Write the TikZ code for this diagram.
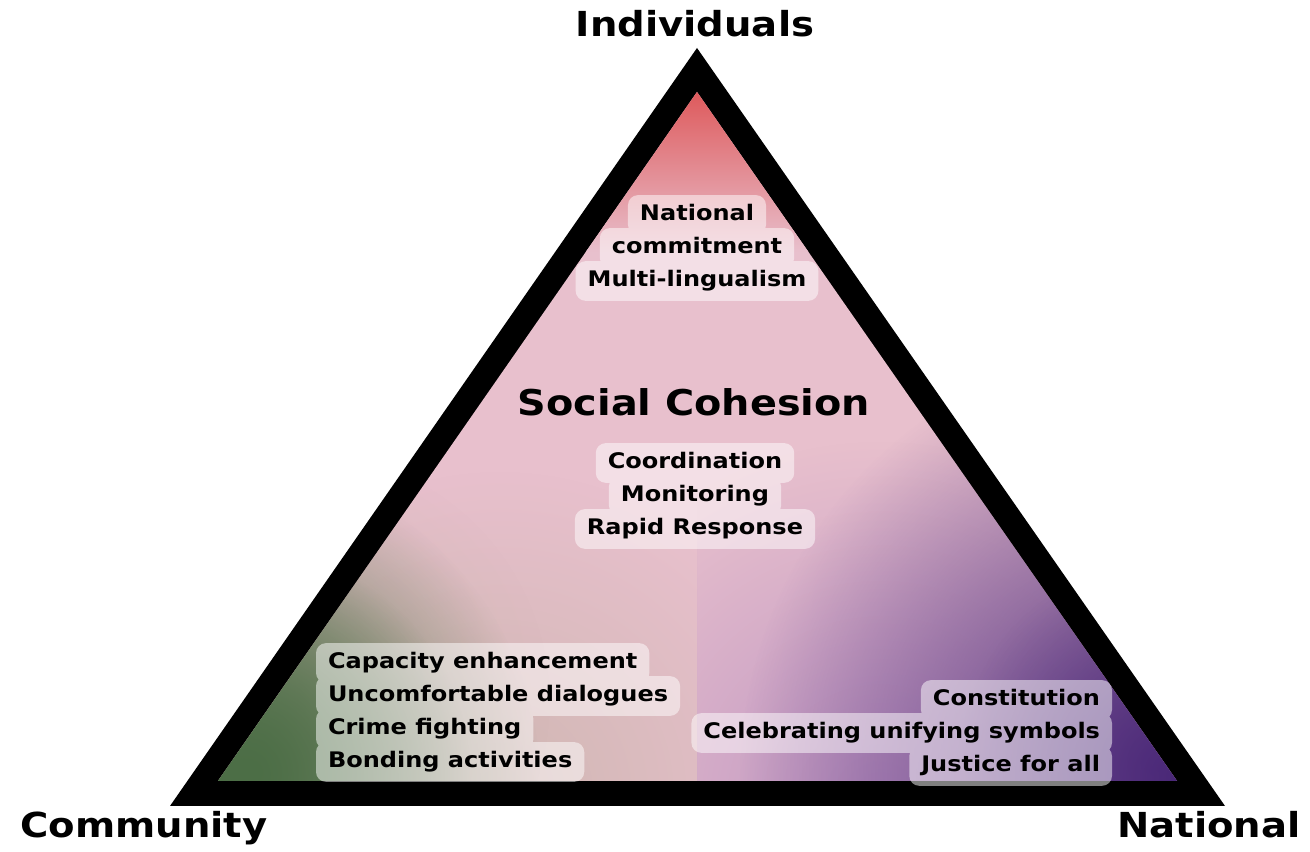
\documentclass[tikz,border=0pt]{standalone}
\usepackage{fontspec}
\setmainfont{DejaVu Sans}[FakeStretch=1.12]
\usetikzlibrary{fadings,backgrounds}

\definecolor{pinkbase}{HTML}{E8C0CD}
\definecolor{apexred}{HTML}{DE5A5C}
\definecolor{greencorner}{HTML}{4C6E46}
\definecolor{purplecorner}{HTML}{4A2878}
\definecolor{beigewash}{HTML}{C6B4A8}
\definecolor{lilacwash}{HTML}{B58CC0}

\tikzfading[name=glow, inner color=transparent!0, outer color=transparent!100]

\pgfdeclarelayer{boxes}
\pgfsetlayers{background,boxes,main}

\tikzset{
  corner/.style={font=\bfseries\fontsize{9.8}{12}\selectfont},
  heading/.style={font=\bfseries\fontsize{10.1}{13}\selectfont},
  item/.style={font=\bfseries\fontsize{6.1}{7}\selectfont,
    inner xsep=0.12cm, inner ysep=2.6pt, text height=4.7pt, text depth=1.4pt,
    outer sep=0pt},
  itembox/.style={fill=white, rounded corners=0.1cm},
}

\begin{document}
\begin{tikzpicture}
    \useasboundingbox (0,0) rectangle (13.1,8.52);

    % Dreieck
    \begin{scope}[on background layer]
        \fill[black] (1.70,0.46) -- (6.97,8.04) -- (12.25,0.46) -- cycle;
        \clip (2.18,0.71) -- (6.97,7.60) -- (11.77,0.71) -- cycle;
        \fill[pinkbase] (0,0) rectangle (13.1,8.52);
        \shade[top color=apexred, bottom color=pinkbase] (4,6.0) rectangle (10,7.6);
        \begin{scope}
            \clip (0,0) rectangle (6.97,8.52);
            \fill[beigewash, fill opacity=0.7, path fading=glow] (5.0,0.6) circle (3.2);
            \fill[beigewash, fill opacity=0.6, path fading=glow] (3.0,1.5) circle (2.5);
        \end{scope}
        \begin{scope}
            \clip (6.97,0) rectangle (13.1,8.52);
            \fill[lilacwash, fill opacity=0.8, path fading=glow] (8.8,0.5) circle (3.6);
        \end{scope}
        \fill[greencorner, path fading=glow] (2.2,0.7) circle (3.2);
        \fill[greencorner, path fading=glow] (2.5,0.8) circle (2.2);
        \fill[purplecorner, path fading=glow] (11.8,0.75) circle (4.4);
        \fill[purplecorner, fill opacity=0.6, path fading=glow] (11.6,0.9) circle (2);
    \end{scope}

    % Ecken
    \node[corner, anchor=base] (ind) at (6.95,8.15) {Individuals};
    \node[corner, anchor=base west] (com) at (0.08,0.14) {Community};
    \node[corner, anchor=base east] (nat) at (13.13,0.14) {National};

    % Mitte
    \node[heading, anchor=base] (title) at (6.94,4.36) {Social Cohesion};
    \foreach \t [count=\i] in {National, commitment, Multi-lingualism}
        \node[item] (top\i) at (6.97,6.70-0.33*\i) {\t};
    \foreach \t [count=\i] in {Coordination, Monitoring, Rapid Response}
        \node[item] (mid\i) at (6.95,4.22-0.33*\i) {\t};

    % Unten
    \foreach \t [count=\i] in {Capacity enhancement, Uncomfortable dialogues,
            Crime fighting, Bonding activities}
        \node[item, anchor=west] (left\i) at (3.16,2.22-0.33*\i) {\t};
    \foreach \t [count=\i] in {Constitution, Celebrating unifying symbols,
            Justice for all}
        \node[item, anchor=east] (right\i) at (11.12,1.85-0.33*\i) {\t};

    % Kaesten
    \begin{pgfonlayer}{boxes}
        \begin{scope}[transparency group, opacity=0.5]
            \foreach \n in {top1,top2,top3,mid1,mid2,mid3,left1,left2,left3,left4,
                    right1,right2,right3}
                \fill[itembox] (\n.south west) rectangle (\n.north east);
        \end{scope}
    \end{pgfonlayer}
\end{tikzpicture}
\end{document}
